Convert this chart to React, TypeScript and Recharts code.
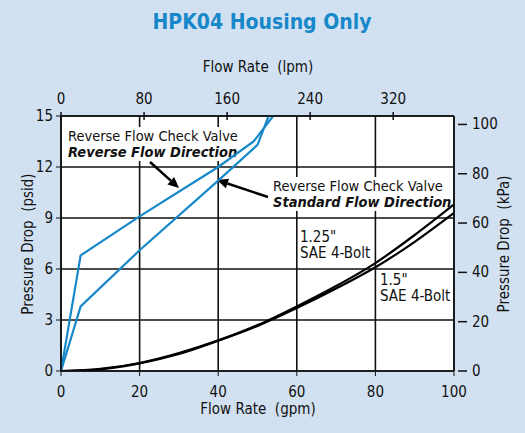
import { CartesianGrid, Line, LineChart, XAxis, YAxis } from 'recharts'

const FONT = '"Liberation Sans Narrow", "DejaVu Sans Condensed", "Arial Narrow", sans-serif'
const BLUE = '#1688c9'
const BG = '#d2e1f1'

// flow (gpm) / pressure drop (psid)
const reverseDirection = [
  { q: 0, p: 0 },
  { q: 5, p: 6.8 },
  { q: 20, p: 9.1 },
  { q: 40, p: 12.0 },
  { q: 49, p: 13.5 },
  { q: 56, p: 15.6 },
]
const standardDirection = [
  { q: 0, p: 0 },
  { q: 5, p: 3.8 },
  { q: 20, p: 7.1 },
  { q: 40, p: 11.2 },
  { q: 50, p: 13.3 },
  { q: 55, p: 16.3 },
]
const sae125 = [
  { q: 0, p: 0 },
  { q: 10, p: 0.12 },
  { q: 20, p: 0.47 },
  { q: 30, p: 1.05 },
  { q: 40, p: 1.8 },
  { q: 50, p: 2.7 },
  { q: 60, p: 3.8 },
  { q: 70, p: 5.0 },
  { q: 80, p: 6.35 },
  { q: 90, p: 8.0 },
  { q: 100, p: 9.8 },
]
const sae15 = [
  { q: 0, p: 0 },
  { q: 10, p: 0.1 },
  { q: 20, p: 0.45 },
  { q: 30, p: 1.0 },
  { q: 40, p: 1.78 },
  { q: 50, p: 2.65 },
  { q: 60, p: 3.7 },
  { q: 70, p: 4.85 },
  { q: 80, p: 6.1 },
  { q: 90, p: 7.6 },
  { q: 100, p: 9.3 },
]

const gpmTicks = [0, 20, 40, 60, 80, 100]
const lpmTicks = [0, 80, 160, 240, 320]
const psidTicks = [0, 3, 6, 9, 12, 15]
const kpaTicks = [0, 20, 40, 60, 80, 100]

const LPM_MAX = 100 * 3.78541
const KPA_MAX = 15 * 6.894757
const lpmRange = [{ lpm: 0 }, { lpm: LPM_MAX }]

const txt = { fontFamily: FONT, fontSize: 15, fill: '#111', style: { whiteSpace: 'pre' as const } }

function TopTick({ x, y, payload }: any) {
  return (
    <g>
      <line x1={x} x2={x} y1={112} y2={120} stroke="#111" strokeWidth={1.5} />
      <text x={x} y={y - 4} textAnchor="middle" {...txt}>
        {payload.value}
      </text>
    </g>
  )
}

function RightTick({ x, y, payload }: any) {
  return (
    <g>
      <line x1={x - 4} x2={x + 5} y1={y} y2={y} stroke="#111" strokeWidth={1.5} />
      <text x={x + 10} y={y + 5} textAnchor="start" {...txt}>
        {payload.value}
      </text>
    </g>
  )
}

function Arrow({ x1, y1, x2, y2 }: { x1: number; y1: number; x2: number; y2: number }) {
  const a = Math.atan2(y2 - y1, x2 - x1)
  const len = 11
  const w = 5
  const bx = x2 - len * Math.cos(a)
  const by = y2 - len * Math.sin(a)
  const px = -Math.sin(a) * w
  const py = Math.cos(a) * w
  return (
    <g>
      <line x1={x1} y1={y1} x2={bx} y2={by} stroke="#000" strokeWidth={2.5} />
      <polygon points={`${x2},${y2} ${bx + px},${by + py} ${bx - px},${by - py}`} fill="#000" />
    </g>
  )
}

export default function App() {
  return (
    <div style={{ position: 'absolute', left: 0, top: 0, width: 525, height: 433, background: BG }}>
      <LineChart width={525} height={433} data={lpmRange} margin={{ top: 40, right: 0, bottom: 0, left: 0 }}>
        <CartesianGrid xAxisId="gpm" yAxisId="psid" stroke="#111" strokeWidth={1.6} fill="#fff" />
        <XAxis
          xAxisId="gpm"
          dataKey="q"
          type="number"
          domain={[0, 100]}
          ticks={gpmTicks}
          allowDataOverflow
          height={62}
          stroke="#111"
          tickSize={5}
          tickMargin={10}
          tick={{ ...txt }}
          axisLine={{ strokeWidth: 1.6 }}
        />
        <XAxis
          xAxisId="lpm"
          dataKey="lpm"
          orientation="top"
          type="number"
          domain={[0, LPM_MAX]}
          ticks={lpmTicks}
          allowDataOverflow
          height={76}
          stroke="#111"
          tickLine={false}
          tick={<TopTick />}
          axisLine={{ strokeWidth: 1.6 }}
        />
        <YAxis
          yAxisId="psid"
          type="number"
          domain={[0, 15]}
          ticks={psidTicks}
          allowDataOverflow
          width={61}
          stroke="#111"
          tickSize={5}
          tickMargin={3}
          tick={{ ...txt }}
          axisLine={{ strokeWidth: 1.6 }}
        />
        <YAxis
          yAxisId="kpa"
          orientation="right"
          type="number"
          domain={[0, KPA_MAX]}
          ticks={kpaTicks}
          allowDataOverflow
          width={71}
          stroke="#111"
          tickLine={false}
          tick={<RightTick />}
          axisLine={{ strokeWidth: 1.6 }}
        />
        <Line xAxisId="gpm" yAxisId="psid" data={sae125} dataKey="p" type="monotone" stroke="#000" strokeWidth={2.2} dot={false} isAnimationActive={false} />
        <Line xAxisId="gpm" yAxisId="psid" data={sae15} dataKey="p" type="monotone" stroke="#000" strokeWidth={2.2} dot={false} isAnimationActive={false} />
        <Line xAxisId="gpm" yAxisId="psid" data={reverseDirection} dataKey="p" type="linear" stroke={BLUE} strokeWidth={2.2} dot={false} isAnimationActive={false} />
        <Line xAxisId="gpm" yAxisId="psid" data={standardDirection} dataKey="p" type="linear" stroke={BLUE} strokeWidth={2.2} dot={false} isAnimationActive={false} />

        <text x={262} y={29} textAnchor="middle" fontFamily={FONT} fontSize={21} fontWeight="bold" fill={BLUE}>
          HPK04 Housing Only
        </text>
        <text x={258} y={72} textAnchor="middle" {...txt}>
          Flow Rate  (lpm)
        </text>
        <text x={258} y={414} textAnchor="middle" {...txt}>
          Flow Rate  (gpm)
        </text>
        <text x={33} y={244} textAnchor="middle" transform="rotate(-90 33 244)" {...txt}>
          Pressure Drop  (psid)
        </text>
        <text x={509} y={244} textAnchor="middle" transform="rotate(-90 509 244)" {...txt}>
          Pressure Drop  (kPa)
        </text>

        <rect x={66} y={127} width={166} height={34} fill="#fff" />
        <text x={68} y={141} {...txt} fontSize={14.5}>Reverse Flow Check Valve</text>
        <text x={68} y={157} {...txt} fontSize={14.5} fontWeight="bold" fontStyle="italic">Reverse Flow Direction</text>
        <Arrow x1={150} y1={162} x2={179} y2={188} />

        <rect x={271} y={177} width={178} height={34} fill="#fff" />
        <text x={273} y={191} {...txt} fontSize={14.5}>Reverse Flow Check Valve</text>
        <text x={273} y={207} {...txt} fontSize={14.5} fontWeight="bold" fontStyle="italic">Standard Flow Direction</text>
        <Arrow x1={268} y1={197} x2={217} y2={180} />

        <text x={300} y={242} {...txt}>1.25"</text>
        <text x={300} y={258} {...txt}>SAE 4-Bolt</text>
        <text x={380} y={285} {...txt}>1.5"</text>
        <text x={380} y={301} {...txt}>SAE 4-Bolt</text>
      </LineChart>
    </div>
  )
}
